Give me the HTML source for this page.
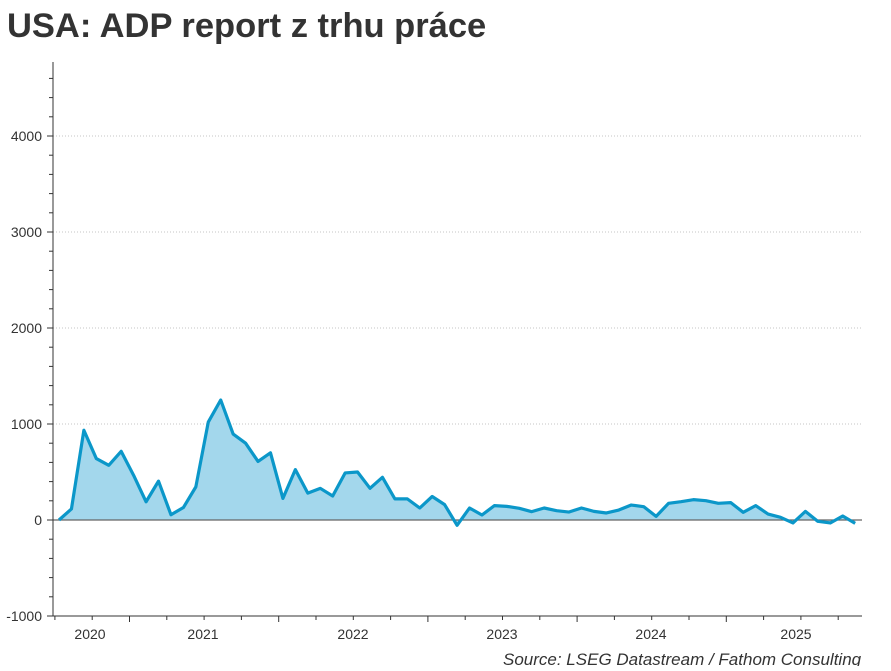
<!DOCTYPE html>
<html><head><meta charset="utf-8"><style>
body{margin:0;background:#fff;width:891px;height:666px;overflow:hidden;font-family:"Liberation Sans",sans-serif}
</style></head><body>
<svg width="891" height="666" font-family="Liberation Sans, sans-serif">
<text x="7" y="37" font-size="34.5" font-weight="bold" fill="#333">USA: ADP report z trhu práce</text>
<g id="grid"></g><g id="series"></g><g id="axes"></g>
<text x="503" y="665" font-size="17" font-style="italic" fill="#333">Source: LSEG Datastream / Fathom Consulting</text>
</svg>
<script>
const values=[0,115,935,640,570,715,465,190,405,55,130,345,1020,1250,895,800,610,700,225,525,280,330,250,490,500,330,445,220,220,125,245,160,-55,125,52,150,142,122,87,125,97,83,125,90,73,104,156,139,38,174,191,212,201,174,181,80,150,62,28,-31,90,-14,-31,42,-35];
const yTicks=[-1000,0,1000,2000,3000,4000];
const yearLabels=["2020","2021","2022","2023","2024","2025"];
const yearLabelX=[90,203,353,502,651,796];
const NS="http://www.w3.org/2000/svg";
const X0=53,X1=862,YB=616;
const y=v=>520-v*0.096;
const x=i=>59+i*12.44;
function mk(p,t,a){const e=document.createElementNS(NS,t);for(const k in a)e.setAttribute(k,a[k]);p.appendChild(e);return e;}
const grid=document.getElementById('grid'),ser=document.getElementById('series'),ax=document.getElementById('axes');
yTicks.forEach(v=>{
 if(v>0){const g=mk(grid,'line',{x1:X0,x2:X1,y1:y(v),y2:y(v),stroke:'#c4c4c4','stroke-dasharray':'1,2'});
 
 }
 const t=mk(ax,'text',{x:42,y:y(v)+5,'font-size':14,fill:'#333','text-anchor':'end'});t.textContent=v;
 
 
 mk(ax,'line',{x1:X0-6,x2:X0,y1:y(v),y2:y(v),stroke:'#333'});
});
for(let v=-1000;v<=4600;v+=200){if(v%1000)mk(ax,'line',{x1:X0-4,x2:X0,y1:y(v),y2:y(v),stroke:'#333'});}
let d='M'+x(0)+','+y(0);values.forEach((v,i)=>d+=' L'+x(i)+','+y(v));d+=' L'+x(values.length-1)+','+y(0)+' Z';
const area=mk(ser,'path',{d:d,fill:'#a3d7ec'});


mk(ser,'line',{x1:X0,x2:X1,y1:y(0),y2:y(0),stroke:'#666','stroke-width':1.2});
const line=mk(ser,'polyline',{points:values.map((v,i)=>x(i)+','+y(v)).join(' '),fill:'none',stroke:'#0b97c9','stroke-width':3.2,'stroke-linejoin':'round'});


mk(ax,'line',{x1:X0,x2:X0,y1:62,y2:YB,stroke:'#333'});
mk(ax,'line',{x1:X0,x2:X1,y1:YB,y2:YB,stroke:'#333'});
for(let k=-4;k<=20;k++){const tx=129.5+k*37.3;if(tx<X0||tx>X1)continue;mk(ax,'line',{x1:tx,x2:tx,y1:YB,y2:YB+(k%4===0?6:4),stroke:'#333'});}
yearLabels.forEach((s,i)=>{const t=mk(ax,'text',{x:yearLabelX[i],y:639,'font-size':14,fill:'#333','text-anchor':'middle'});t.textContent=s;
 
 });
</script>
</body></html>
